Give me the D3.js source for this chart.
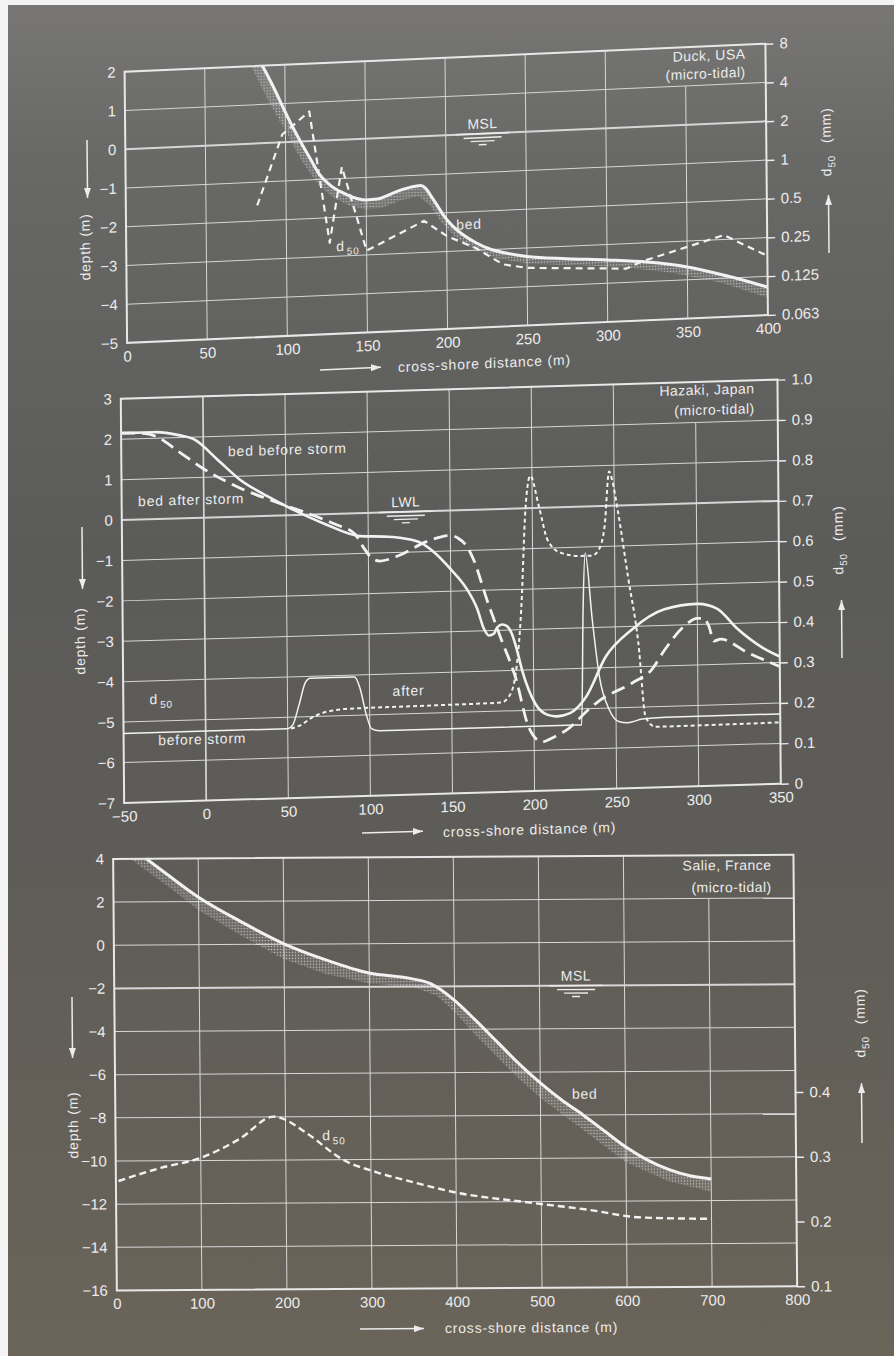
<!DOCTYPE html>
<html>
<head>
<meta charset="utf-8">
<script src="https://cdn.jsdelivr.net/npm/d3@7"></script>
<style>
  html, body { margin: 0; padding: 0; background: #fff; }
  svg { display: block; }
  text { font-family: "Liberation Sans", Arial, sans-serif; fill: #ececec; }
</style>
</head>
<body>
<div id="chart"></div>
<script>
// ---------- Duck, USA ----------
const duckXTicks = [0, 50, 100, 150, 200, 250, 300, 350, 400];
const duckDepthTicks = [2, 1, 0, -1, -2, -3, -4, -5];
const duckD50Ticks = [8, 4, 2, 1, 0.5, 0.25, 0.125, 0.0625];
const duckD50Labels = ["8", "4", "2", "1", "0.5", "0.25", "0.125", "0.063"];
const duckBed = [[86, 2], [93, 1.42], [100, 0.78], [104, 0.43], [110, -0.05], [116, -0.5], [121, -0.87],
  [128, -1.17], [135, -1.36], [142, -1.5], [150, -1.58], [157, -1.57], [164, -1.48], [171, -1.37],
  [178, -1.3], [184, -1.27], [187, -1.34], [190, -1.52], [194, -1.78], [198, -2.05], [204, -2.36],
  [210, -2.58], [218, -2.8], [226, -2.97], [236, -3.1], [250, -3.22], [275, -3.32], [300, -3.4],
  [325, -3.5], [350, -3.67], [375, -3.95], [400, -4.28]];
// lower edge of the stippled band under the bed
const duckBand = [[79, 2], [90, 1.05], [100, 0.3], [110, -0.5], [120, -1.12], [130, -1.5], [140, -1.72],
  [150, -1.82], [160, -1.8], [172, -1.62], [183, -1.55], [190, -1.8], [197, -2.25], [205, -2.62],
  [215, -2.92], [230, -3.22], [250, -3.4], [280, -3.5], [310, -3.6], [340, -3.8], [370, -4.1], [400, -4.55]];
const duckD50 = [[82, 0.66], [98, 2.3], [115, 3.4], [127, 0.32], [135, 1.23], [150, 0.27], [186, 0.44],
  [200, 0.33], [218, 0.26], [235, 0.19], [250, 0.175], [312, 0.16], [322, 0.18], [373, 0.27], [400, 0.18]];

// ---------- Hazaki, Japan ----------
const hazXTicks = [-50, 0, 50, 100, 150, 200, 250, 300, 350];
const hazDepthTicks = [3, 2, 1, 0, -1, -2, -3, -4, -5, -6, -7];
const hazD50Ticks = [1.0, 0.9, 0.8, 0.7, 0.6, 0.5, 0.4, 0.3, 0.2, 0.1, 0];
const hazBedBefore = [[-50, 2.15], [-30, 2.15], [-15, 2.06], [-5, 1.93], [8, 1.45], [22, 0.92], [39, 0.48],
  [55, 0.12], [74, -0.25], [95, -0.57], [110, -0.6], [122, -0.66], [132, -0.78], [140, -1.02], [150, -1.45],
  [160, -1.97], [166, -2.45], [170, -2.95], [173, -3.12], [176, -3.08], [178, -2.93], [181, -2.86],
  [184, -2.9], [187, -3.1], [190, -3.5], [193, -4.0], [197, -4.5], [201, -4.85], [208, -5.12], [214, -5.17],
  [222, -5.1], [232, -4.7], [244, -3.73], [260, -3.08], [280, -2.6], [300, -2.49], [312, -2.62],
  [324, -3.12], [340, -3.63], [350, -3.85]];
const hazBedAfter = [[-50, 2.15], [-35, 2.12], [-29, 2.05], [-15, 1.65], [0, 1.21], [22, 0.71], [43, 0.35],
  [64, 0.02], [80, -0.26], [92, -0.52], [97, -0.85], [102, -1.12], [107, -1.2], [119, -1.07], [135, -0.76],
  [145, -0.64], [150, -0.62], [155, -0.7], [160, -0.9], [164, -1.23], [172, -2.24], [180, -3.17],
  [189, -4.18], [197, -5.44], [205, -5.79], [211, -5.7], [221, -5.48], [234, -5.0], [240, -4.81],
  [260, -4.4], [272, -4.08], [280, -3.6], [292, -3.03], [300, -2.85], [304, -2.85], [307, -3.05],
  [310, -3.42], [314, -3.38], [330, -3.72], [350, -4.1]];
const hazD50Before = [[-50, 0.172], [50, 0.172], [53, 0.18], [57, 0.23], [61, 0.285], [64, 0.295],
  [91, 0.295], [94, 0.27], [98, 0.2], [101, 0.166], [106, 0.16], [229, 0.16], [230.5, 0.45], [232, 0.585],
  [236, 0.42], [240, 0.28], [246, 0.195], [252, 0.165], [257, 0.162], [266, 0.17], [280, 0.173], [350, 0.173]];
const hazD50After = [[52, 0.172], [58, 0.18], [65, 0.198], [75, 0.212], [88, 0.217], [140, 0.219],
  [180, 0.221], [184.6, 0.234], [188.7, 0.282], [192.8, 0.45], [195.9, 0.7], [199, 0.78], [204, 0.705],
  [209.2, 0.62], [217.4, 0.587], [229.8, 0.578], [236, 0.578], [240, 0.59], [244, 0.65], [247, 0.785],
  [249, 0.76], [252, 0.69], [258, 0.523], [264, 0.357], [268, 0.175], [274, 0.15], [350, 0.152]];

// ---------- Salie, France ----------
const salXTicks = [0, 100, 200, 300, 400, 500, 600, 700, 800];
const salDepthTicks = [4, 2, 0, -2, -4, -6, -8, -10, -12, -14, -16];
const salD50Ticks = [0.4, 0.3, 0.2, 0.1];
const salBed = [[39, 4], [60, 3.37], [100, 2.2], [150, 1.05], [200, 0.02], [250, -0.75], [300, -1.36],
  [348, -1.62], [372, -1.87], [400, -2.65], [425, -3.6], [450, -4.6], [475, -5.6], [500, -6.5],
  [525, -7.3], [550, -8.0], [575, -8.75], [600, -9.5], [625, -10.1], [650, -10.55], [675, -10.85], [700, -11.0]];
const salBand = [[20, 4], [60, 2.85], [100, 1.6], [150, 0.4], [200, -0.7], [250, -1.4], [300, -1.85],
  [350, -2.0], [380, -2.45], [400, -3.2], [425, -4.3], [450, -5.3], [475, -6.3], [500, -7.2], [550, -8.7],
  [600, -10.2], [650, -11.1], [700, -11.6]];
const salD50 = [[3, 0.269], [53, 0.289], [100, 0.304], [146, 0.333], [186, 0.367], [194, 0.365],
  [226, 0.34], [267, 0.3], [307, 0.28], [348, 0.265], [400, 0.248], [479, 0.233], [556, 0.22],
  [615, 0.208], [700, 0.205]];

const W = 894, H = 1356;
const INK = "#ececec";

const svg = d3.select("#chart").append("svg").attr("width", W).attr("height", H);
const defs = svg.append("defs");

const grad = defs.append("linearGradient").attr("id", "bg")
  .attr("x1", 0).attr("y1", 0).attr("x2", 0).attr("y2", 1);
[[0, "#787775"], [0.12, "#686866"], [0.4, "#5b5b59"], [0.62, "#5e5c58"], [1, "#6a6459"]]
  .forEach(s => grad.append("stop").attr("offset", s[0]).attr("stop-color", s[1]));

const pat = defs.append("pattern").attr("id", "stip").attr("patternUnits", "userSpaceOnUse")
  .attr("width", 3).attr("height", 3);
pat.append("rect").attr("width", 3).attr("height", 3).attr("fill", "rgba(255,255,255,0.07)");
pat.append("circle").attr("cx", 1.5).attr("cy", 1.5).attr("r", 0.75).attr("fill", "#c4c4c4");

defs.append("marker").attr("id", "ah").attr("viewBox", "0 0 10 7")
  .attr("refX", 10).attr("refY", 3.5).attr("markerWidth", 10).attr("markerHeight", 7)
  .attr("markerUnits", "userSpaceOnUse").attr("orient", "auto")
  .append("path").attr("d", "M0,0L10,3.5L0,7Z").attr("fill", INK);

svg.append("rect").attr("width", W).attr("height", H).attr("fill", "url(#bg)");
svg.append("rect").attr("width", 8).attr("height", H).attr("fill", "#f3f3f3");
svg.append("rect").attr("width", W).attr("height", 5).attr("fill", "#f3f3f3");

function panel(p) {
  const w = Math.hypot(p.xv[0], p.xv[1]), h = Math.hypot(p.yv[0], p.yv[1]);
  const m = [p.xv[0] / w, p.xv[1] / w, p.yv[0] / h, p.yv[1] / h, p.origin[0], p.origin[1]];
  const det = m[0] * m[3] - m[1] * m[2];
  const loc = ([X, Y]) => {
    const dx = X - m[4], dy = Y - m[5];
    return [(m[3] * dx - m[2] * dy) / det, (-m[1] * dx + m[0] * dy) / det];
  };
  const g = svg.append("g").attr("transform", `matrix(${m.join(",")})`);

  const x = d3.scaleLinear().domain(p.xDomain).range([0, w]);
  const y = d3.scaleLinear().domain(p.yDomain).range([h, 0]);
  const yR = p.rScale.range([h, 0]);

  const grid = g.append("g").attr("stroke", "#d6d6d6").attr("stroke-width", 1);
  grid.selectAll("line.v").data(p.xTicks.slice(1, -1)).join("line")
    .attr("x1", d => x(d)).attr("x2", d => x(d))
    .attr("y1", d => d >= p.boxX ? y(p.boxY) : 0).attr("y2", h)
    .attr("stroke-width", d => d === p.boldX ? 1.7 : 1);
  grid.selectAll("line.h").data(p.yTicks.slice(1, -1)).join("line")
    .attr("x1", 0).attr("x2", w).attr("y1", d => y(d)).attr("y2", d => y(d))
    .attr("stroke-width", d => d === p.level ? 2 : 1);

  const series = g.append("g");

  g.append("rect").attr("width", w).attr("height", h)
    .attr("fill", "none").attr("stroke", "#e8e8e8").attr("stroke-width", 2);

  // axes
  const intFmt = d3.format("d");
  const left = g.append("g")
    .call(d3.axisLeft(y).tickValues(p.yTicks).tickSize(0).tickPadding(9).tickFormat(intFmt));
  const bottom = g.append("g").attr("transform", `translate(0,${h})`)
    .call(d3.axisBottom(x).tickValues(p.xTicks).tickSize(0).tickPadding(8).tickFormat(intFmt));
  const right = g.append("g").attr("transform", `translate(${w},0)`)
    .call(d3.axisRight(yR).tickValues(p.rTicks).tickSize(8).tickPadding(6).tickFormat(p.rFormat));
  [left, bottom, right].forEach(a => {
    a.attr("font-family", null).attr("font-size", null).attr("color", INK);
    a.select(".domain").remove();
    a.selectAll("text").style("font-size", "15px");
    a.selectAll("line").attr("stroke-width", 1.4);
  });

  // title in the upper right corner
  p.title.forEach((t, i) => g.append("text").attr("x", w - p.titleDx).attr("y", p.titleY[i])
    .attr("text-anchor", "end").style("font-size", "14px").style("letter-spacing", "0.5px").text(t));

  // depth (m) with arrow down
  const dl = loc(p.depthLabel);
  g.append("text").attr("transform", `translate(${dl[0]},${dl[1]}) rotate(-90)`)
    .attr("text-anchor", "middle").attr("dy", "0.35em")
    .style("font-size", "14px").style("letter-spacing", "0.8px").text("depth (m)");
  const da0 = loc(p.depthArrow[0]), da1 = loc(p.depthArrow[1]);
  g.append("line").attr("x1", da0[0]).attr("y1", da0[1]).attr("x2", da0[0]).attr("y2", da1[1])
    .attr("stroke", INK).attr("stroke-width", 1.5).attr("marker-end", "url(#ah)");

  // d50 (mm) with arrow up
  const rl = loc(p.d50Label);
  const rt = g.append("text").attr("transform", `translate(${rl[0]},${rl[1]}) rotate(-90)`)
    .attr("text-anchor", "middle").attr("dy", "0.35em")
    .style("font-size", "14px").style("letter-spacing", "0.8px");
  rt.append("tspan").text("d");
  rt.append("tspan").attr("dy", 4).style("font-size", "10px").text("50");
  rt.append("tspan").attr("dy", -4).attr("dx", 12).text("(mm)");
  const ra0 = loc(p.d50Arrow[0]), ra1 = loc(p.d50Arrow[1]);
  g.append("line").attr("x1", ra0[0]).attr("y1", ra0[1]).attr("x2", ra0[0]).attr("y2", ra1[1])
    .attr("stroke", INK).attr("stroke-width", 1.5).attr("marker-end", "url(#ah)");

  // cross-shore distance (m) with arrow right
  const xa0 = loc(p.xArrow[0]), xa1 = loc(p.xArrow[1]);
  g.append("line").attr("x1", xa0[0]).attr("y1", xa0[1]).attr("x2", xa1[0]).attr("y2", xa0[1])
    .attr("stroke", INK).attr("stroke-width", 1.5).attr("marker-end", "url(#ah)");
  const xl = loc(p.xLabel);
  g.append("text").attr("x", xl[0]).attr("y", xl[1])
    .style("font-size", "14px").style("letter-spacing", "0.8px").text("cross-shore distance (m)");

  return { g, series, x, y, yR, w, h };
}

function waterLevel(P, xm, ym, label) {
  const cx = P.x(xm), cy = P.y(ym);
  P.g.append("text").attr("x", cx).attr("y", cy - 5).attr("text-anchor", "middle")
    .style("font-size", "14px").style("letter-spacing", "0.5px").text(label);
  [[54, 0], [38, 4], [24, 7.5], [8, 11]].forEach(([len, off]) =>
    P.g.append("line").attr("x1", cx - len / 2).attr("x2", cx + len / 2)
      .attr("y1", cy + off).attr("y2", cy + off).attr("stroke", INK).attr("stroke-width", 1.4));
}

function note(P, xd, yd, txt, sub) {
  const t = P.g.append("text").attr("x", P.x(xd)).attr("y", P.y(yd))
    .style("font-size", "14px").style("letter-spacing", "0.8px");
  t.append("tspan").text(txt);
  if (sub) t.append("tspan").attr("dy", 4).attr("dx", 2).style("font-size", "10px").text(sub);
}

function band(P, top, low) {
  const pts = top.concat(low.slice().reverse());
  P.series.append("path").datum(pts)
    .attr("d", d3.line().x(d => P.x(d[0])).y(d => P.y(d[1])).curve(d3.curveLinearClosed))
    .attr("fill", "url(#stip)");
}

function curve(P, data, ys, opts) {
  P.series.append("path").datum(data)
    .attr("d", d3.line().x(d => P.x(d[0])).y(d => ys(d[1])).curve(opts.curve || d3.curveMonotoneX))
    .attr("fill", "none").attr("stroke", opts.color || "#f2f2f2")
    .attr("stroke-width", opts.width).attr("stroke-dasharray", opts.dash || null)
    .attr("stroke-linejoin", "round");
}

// ---------- panel 1 ----------
const P1 = panel({
  origin: [124.6, 71.7], xv: [640.8, -27.9], yv: [2.5, 271.2],
  xDomain: [0, 400], yDomain: [-5, 2],
  rScale: d3.scaleLog().base(2).domain([0.0625, 8]),
  xTicks: duckXTicks, yTicks: duckDepthTicks, rTicks: duckD50Ticks,
  rFormat: (d, i) => duckD50Labels[i],
  level: 0, boldX: null, boxX: 350, boxY: 1,
  title: ["Duck, USA", "(micro-tidal)"], titleDx: 20, titleY: [14, 32],
  depthLabel: [85, 247], depthArrow: [[87, 140], [87, 198]],
  d50Label: [826, 142], d50Arrow: [[829, 253], [829, 195]],
  xArrow: [[320, 370], [381, 370]], xLabel: [398, 372]
});
band(P1, duckBed, duckBand);
curve(P1, duckD50, P1.yR, { width: 2.2, dash: "7,5", curve: d3.curveLinear });
curve(P1, duckBed, P1.y, { width: 3 });
waterLevel(P1, 223, 0, "MSL");
note(P1, 206, -2.45, "bed");
note(P1, 131, -2.87, "d", "50");

// ---------- panel 2 ----------
const P2 = panel({
  origin: [120.8, 398.8], xv: [656.65, -19.15], yv: [3.35, 404.15],
  xDomain: [-50, 350], yDomain: [-7, 3],
  rScale: d3.scaleLinear().domain([0, 1]),
  xTicks: hazXTicks, yTicks: hazDepthTicks, rTicks: hazD50Ticks,
  rFormat: d => d === 0 ? "0" : d3.format(".1f")(d),
  level: 0, boldX: 0, boxX: 300, boxY: 2,
  title: ["Hazaki, Japan", "(micro-tidal)"], titleDx: 23, titleY: [13, 33],
  depthLabel: [80, 641], depthArrow: [[82, 527], [82, 589]],
  d50Label: [838, 540], d50Arrow: [[842, 658], [842, 600]],
  xArrow: [[362, 833], [423, 833]], xLabel: [443, 837]
});
curve(P2, hazD50Before, P2.yR, { width: 1.5 });
curve(P2, hazD50After, P2.yR, { width: 2, dash: "4,3" });
curve(P2, hazBedAfter, P2.y, { width: 2.8, dash: "14,7" });
curve(P2, hazBedBefore, P2.y, { width: 2.6 });
waterLevel(P2, 123, 0, "LWL");
note(P2, 15, 1.5, "bed before storm");
note(P2, -40, 0.33, "bed after storm");
note(P2, -34, -4.58, "d", "50");
note(P2, -29, -5.6, "before storm");
note(P2, 114, -4.55, "after");

// ---------- panel 3 ----------
const P3 = panel({
  origin: [113.15, 858.95], xv: [680.3, -4.2], yv: [3.7, 431.5],
  xDomain: [0, 800], yDomain: [-16, 4],
  rScale: d3.scaleLinear().domain([0.1, 0.1 + 20 / 30]),
  xTicks: salXTicks, yTicks: salDepthTicks, rTicks: salD50Ticks,
  rFormat: d3.format(".1f"),
  level: -2, boldX: null, boxX: 700, boxY: 2,
  title: ["Salie, France", "(micro-tidal)"], titleDx: 22, titleY: [15, 37],
  depthLabel: [73, 1125], depthArrow: [[72, 997], [72, 1058]],
  d50Label: [860, 1023], d50Arrow: [[862, 1143], [862, 1083]],
  xArrow: [[360, 1329], [424, 1329]], xLabel: [445, 1333]
});
band(P3, salBed, salBand);
curve(P3, salD50, P3.yR, { width: 2.4, dash: "7,4" });
curve(P3, salBed, P3.y, { width: 3 });
waterLevel(P3, 543, -2, "MSL");
note(P3, 537, -7.25, "bed");
note(P3, 243, -9.1, "d", "50");
</script>
</body>
</html>
